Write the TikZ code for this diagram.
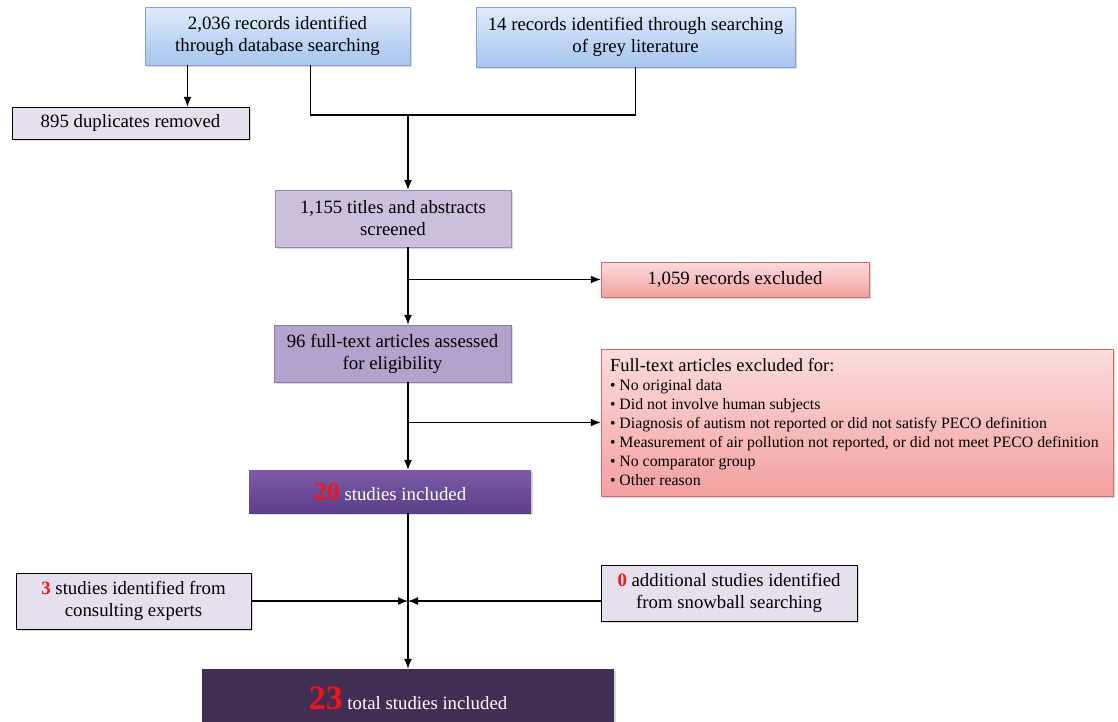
\documentclass[tikz,border=0pt]{standalone}
\usepackage{fontspec}
\setmainfont{Liberation Serif}
\usetikzlibrary{arrows.meta,shadows}
\definecolor{dbtop}{HTML}{E0EBFB}
\definecolor{dbbot}{HTML}{A6C5EE}
\definecolor{dbline}{HTML}{7EA4D4}
\definecolor{lav}{HTML}{E6E0EE}
\definecolor{scr}{HTML}{CBBFDC}
\definecolor{scrline}{HTML}{9A86BE}
\definecolor{ful}{HTML}{B3A2CB}
\definecolor{fulline}{HTML}{8E7AB1}
\definecolor{pinktop}{HTML}{FCDCDC}
\definecolor{pinkbot}{HTML}{F3A0A0}
\definecolor{pinkline}{HTML}{CF6A6A}
\definecolor{inctop}{HTML}{7C5CA8}
\definecolor{incbot}{HTML}{5C3E88}
\definecolor{tot}{HTML}{422E52}
\definecolor{numred}{HTML}{F0141C}
\begin{document}
\begin{tikzpicture}[x=1pt,y={(0pt,-1pt)},
  >={Latex[length=10pt,width=8pt]},
  box/.style={draw,inner sep=0pt,align=center,font=\fontsize{18.8}{22}\selectfont,
    drop shadow={shadow xshift=1.5pt,shadow yshift=-2pt,opacity=.3}},
  bluebox/.style={box,draw=dbline,top color=dbtop,bottom color=dbbot},
  lavbox/.style={box,draw=black,fill=lav},
  pinkbox/.style={box,draw=pinkline,top color=pinktop,bottom color=pinkbot},
  link/.style={line width=1.4pt}]
\useasboundingbox (0,0) rectangle (1118,721);
\node[bluebox,minimum width=265,minimum height=58] (db) at (277.5,36)
  {2,036 records identified\\through database searching};
\node[bluebox,minimum width=319,minimum height=60] (grey) at (635.5,37)
  {14 records identified through searching\\of grey literature};
\node[lavbox,minimum width=237,minimum height=32] (dup) at (130.5,123)
  {895 duplicates removed};
\node[box,draw=scrline,fill=scr,minimum width=236,minimum height=57] (screen) at (393,218.5)
  {1,155 titles and abstracts\\screened};
\node[pinkbox,minimum width=268,minimum height=35] (excl1) at (735,279.5)
  {1,059 records excluded};
\node[box,draw=fulline,fill=ful,minimum width=237,minimum height=57] (full) at (392.5,353.5)
  {96 full-text articles assessed\\for eligibility};
\node[pinkbox,minimum width=512,minimum height=147,text width=494,align=left] (excl2) at (857,422.5)
  {\spaceskip=0pt\xspaceskip=0pt
   {\fontsize{18.5}{19}\selectfont Full-text articles excluded for:\par}
   {\fontsize{15.8}{19}\selectfont \textbullet\ No original data\\
   \textbullet\ Did not involve human subjects\\
   \textbullet\ Diagnosis of autism not reported or did not satisfy PECO definition\\
   \textbullet\ Measurement of air pollution not reported, or did not meet PECO definition\\
   \textbullet\ No comparator group\\
   \textbullet\ Other reason\par}};
\node[box,draw=none,top color=inctop,bottom color=incbot,text=white,minimum width=282,minimum height=43] (inc20) at (390,491.5)
  {\textcolor{numred}{\fontsize{26}{26}\selectfont\bfseries 20} studies included};
\node[lavbox,minimum width=235,minimum height=56] (consult) at (133.5,601)
  {\textcolor{numred}{\bfseries 3} studies identified from\\consulting experts};
\node[lavbox,minimum width=256,minimum height=56] (snowball) at (729,593)
  {\textcolor{numred}{\bfseries 0} additional studies identified\\from snowball searching};
\node[box,draw=none,fill=tot,text=white,minimum width=412,minimum height=58] (total) at (408,698)
  {\textcolor{numred}{\fontsize{34}{34}\selectfont\bfseries 23} total studies included};
%
\coordinate (jn) at (408,115);
\coordinate (mj) at (408,601);
\draw[link,->] ([xshift=-90pt]db.south) -- ([xshift=-90pt]db.south |- dup.north);
\draw[link] ([xshift=33pt]db.south) |- (grey.south |- jn) -- (grey.south);
\draw[link,->] (jn) -- (jn |- screen.north);
\draw[link,->] (jn |- screen.south) -- (jn |- full.north);
\draw[link,->] (jn |- excl1.west) -- (excl1.west);
\draw[link,->] (jn |- full.south) -- (jn |- inc20.north);
\draw[link,->] (jn |- excl2.west) -- (excl2.west);
\draw[link,->] (jn |- inc20.south) -- (jn |- total.north);
\draw[link,->] (consult.east) -- (mj);
\draw[link,->] (snowball.west |- mj) -- (mj);
\end{tikzpicture}
\end{document}
